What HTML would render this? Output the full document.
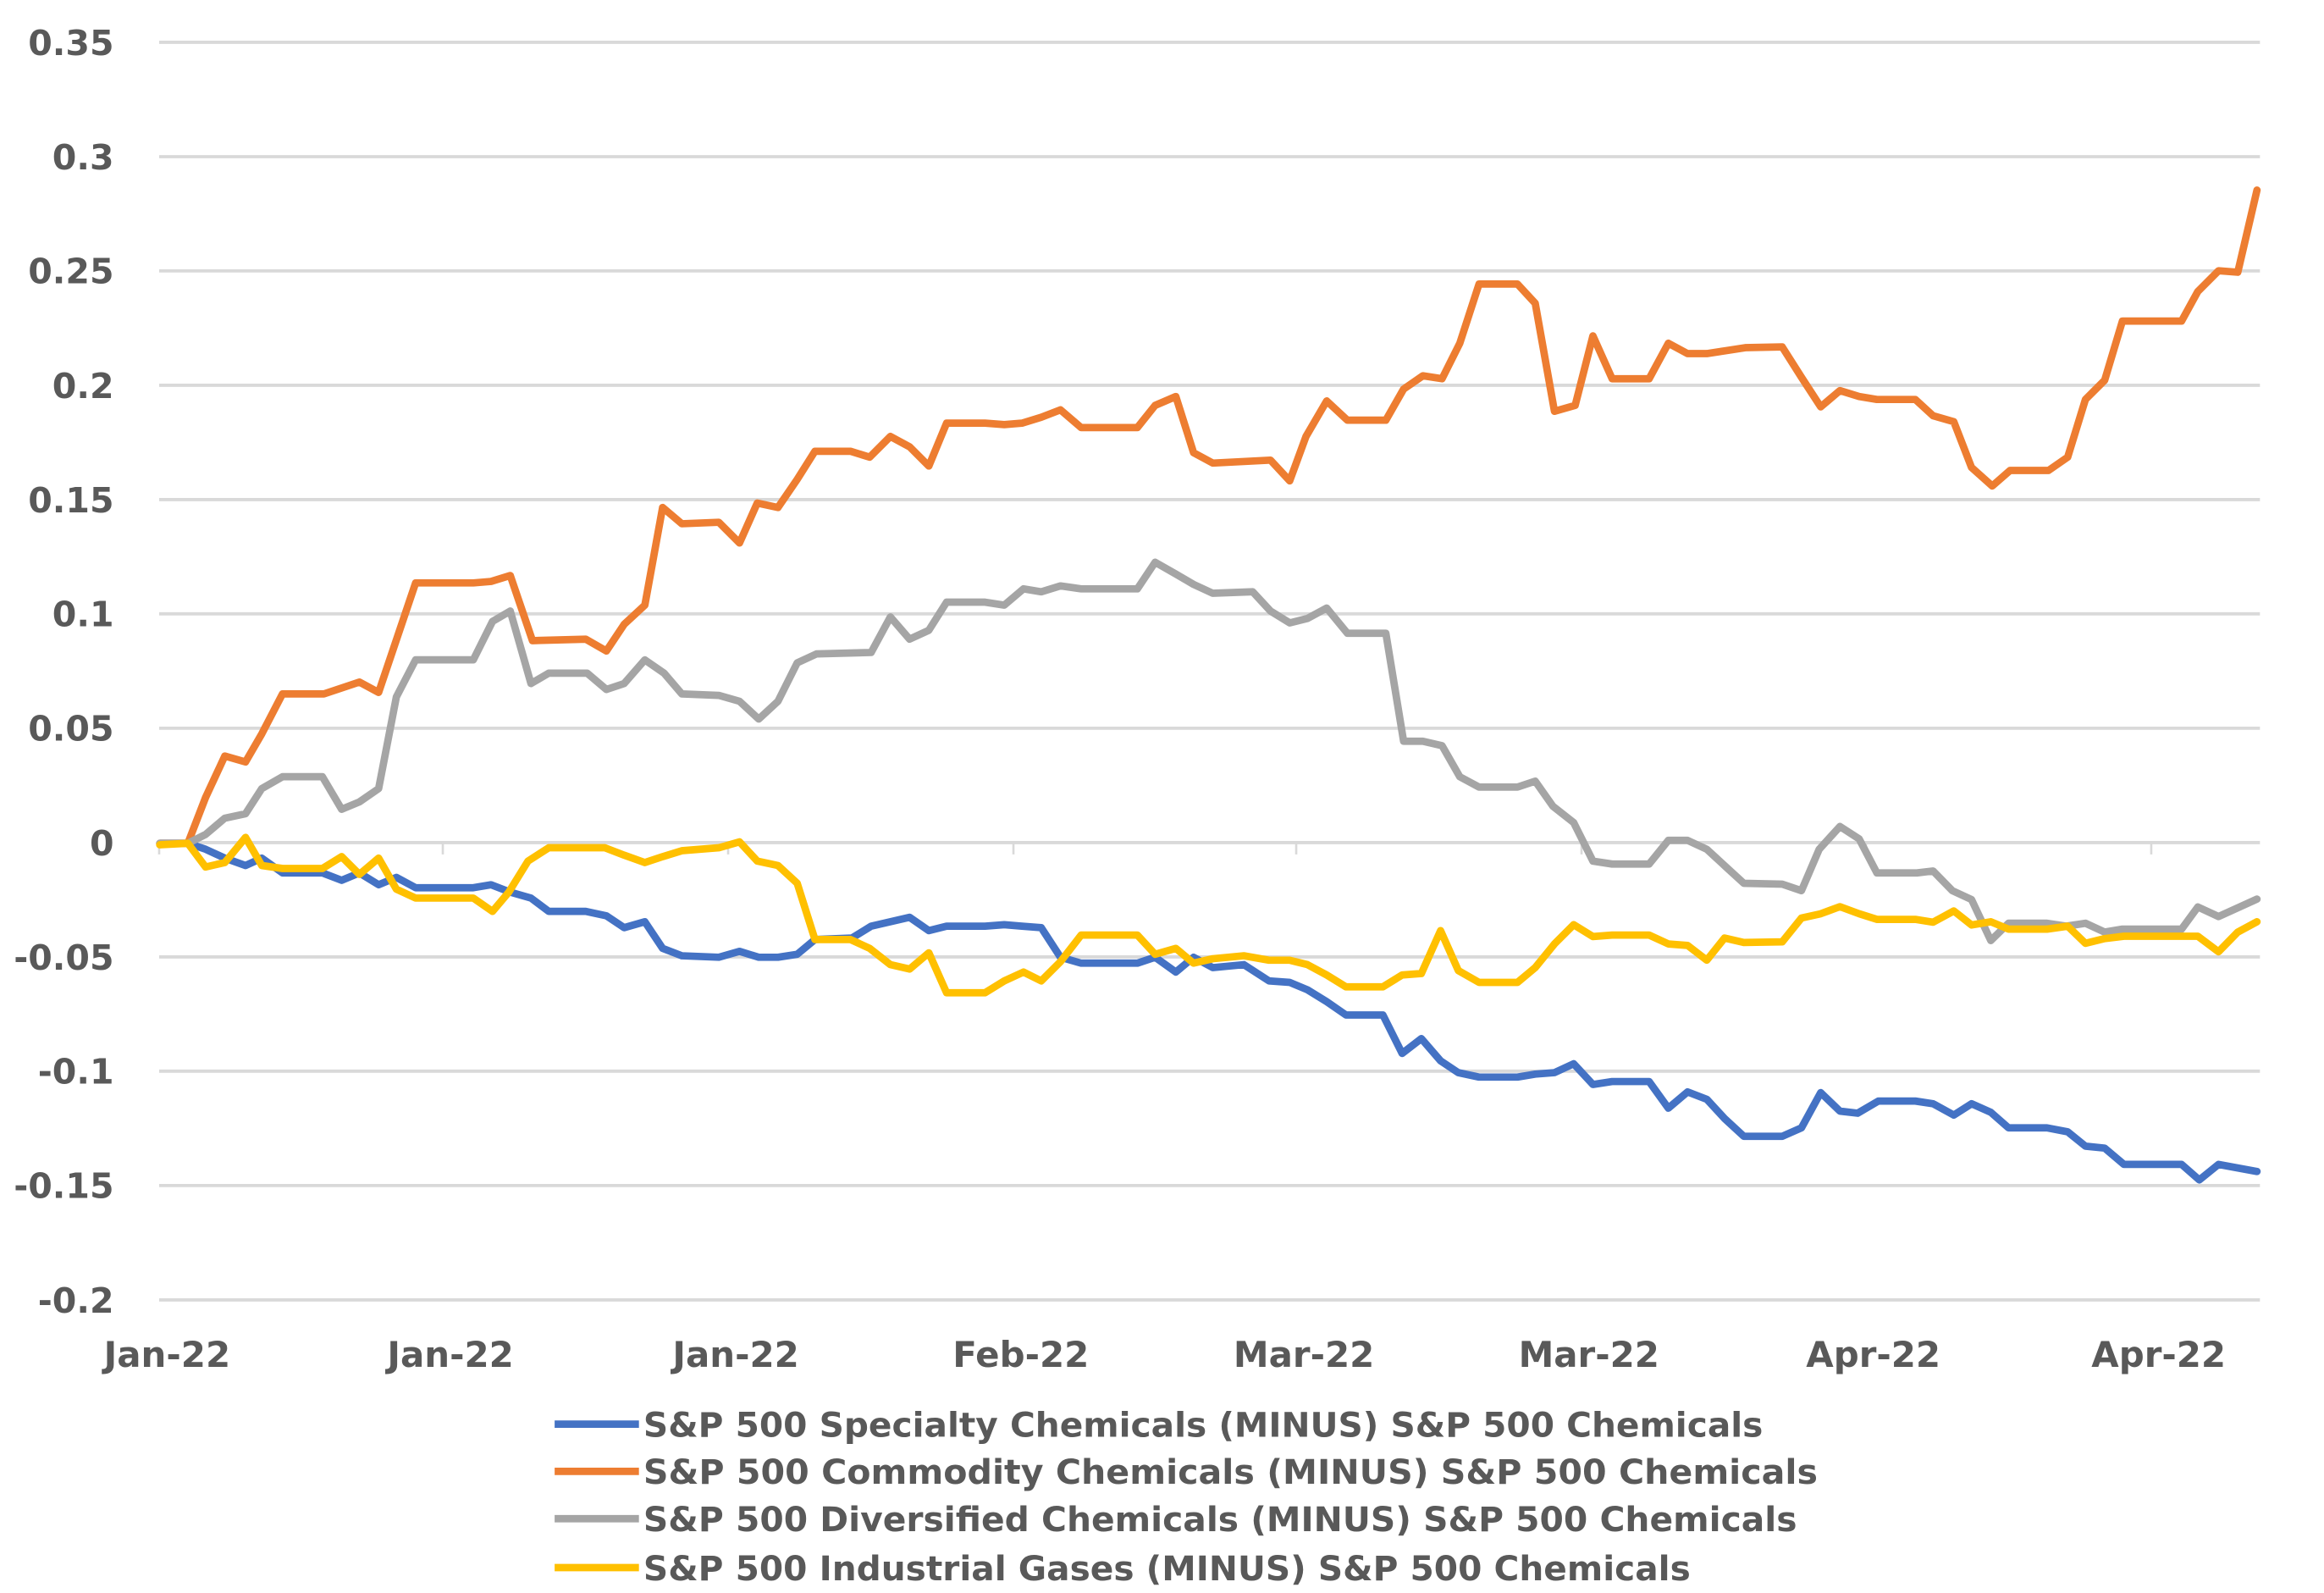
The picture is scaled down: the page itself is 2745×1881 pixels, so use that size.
<!DOCTYPE html>
<html>
<head>
<meta charset="utf-8">
<style>
  html, body { margin: 0; padding: 0; background: #ffffff; }
  svg { display: block; }
  .ax { font-family: "DejaVu Sans", "Liberation Sans", sans-serif; font-weight: bold; fill: #595959; }
</style>
</head>
<body>
<svg xmlns="http://www.w3.org/2000/svg" width="2745" height="1881" viewBox="0 0 1571.3 1076.7" preserveAspectRatio="none">
  <rect x="0" y="0" width="1571.3" height="1076.7" fill="#ffffff"/>

  <!-- gridlines -->
  <g stroke="#d9d9d9" stroke-width="2.2">
    <line x1="107.6" y1="28.6" x2="1528" y2="28.6"/>
    <line x1="107.6" y1="105.9" x2="1528" y2="105.9"/>
    <line x1="107.6" y1="183.1" x2="1528" y2="183.1"/>
    <line x1="107.6" y1="260.4" x2="1528" y2="260.4"/>
    <line x1="107.6" y1="337.7" x2="1528" y2="337.7"/>
    <line x1="107.6" y1="414.9" x2="1528" y2="414.9"/>
    <line x1="107.6" y1="492.2" x2="1528" y2="492.2"/>
    <line x1="107.6" y1="569.5" x2="1528" y2="569.5"/>
    <line x1="107.6" y1="646.8" x2="1528" y2="646.8"/>
    <line x1="107.6" y1="724.0" x2="1528" y2="724.0"/>
    <line x1="107.6" y1="801.3" x2="1528" y2="801.3"/>
    <line x1="107.6" y1="878.6" x2="1528" y2="878.6"/>
  </g>
  <!-- axis ticks -->
  <g stroke="#d9d9d9" stroke-width="1.5">
    <line x1="107.6" y1="569.5" x2="107.6" y2="577.5"/>
    <line x1="299.4" y1="569.5" x2="299.4" y2="577.5"/>
    <line x1="492.3" y1="569.5" x2="492.3" y2="577.5"/>
    <line x1="685.2" y1="569.5" x2="685.2" y2="577.5"/>
    <line x1="876.4" y1="569.5" x2="876.4" y2="577.5"/>
    <line x1="1069.3" y1="569.5" x2="1069.3" y2="577.5"/>
    <line x1="1261.6" y1="569.5" x2="1261.6" y2="577.5"/>
    <line x1="1454.5" y1="569.5" x2="1454.5" y2="577.5"/>
  </g>

  <!-- y-axis labels -->
  <g class="ax" font-size="23.5" text-anchor="end">
    <text x="77" y="37.1">0.35</text>
    <text x="77" y="114.4">0.3</text>
    <text x="77" y="191.6">0.25</text>
    <text x="77" y="268.9">0.2</text>
    <text x="77" y="346.2">0.15</text>
    <text x="77" y="423.4">0.1</text>
    <text x="77" y="500.7">0.05</text>
    <text x="77" y="578.0">0</text>
    <text x="77" y="655.3">-0.05</text>
    <text x="77" y="732.5">-0.1</text>
    <text x="77" y="809.8">-0.15</text>
    <text x="77" y="887.1">-0.2</text>
  </g>

  <!-- x-axis labels -->
  <g class="ax" font-size="24" text-anchor="middle">
    <text x="113" y="924">Jan-22</text>
    <text x="304.6" y="924">Jan-22</text>
    <text x="497.5" y="924">Jan-22</text>
    <text x="690.2" y="924">Feb-22</text>
    <text x="881.6" y="924">Mar-22</text>
    <text x="1074.3" y="924">Mar-22</text>
    <text x="1266.6" y="924">Apr-22</text>
    <text x="1459.5" y="924">Apr-22</text>
  </g>

  <!-- series -->
  <g fill="none" stroke-width="5" stroke-linejoin="round" stroke-linecap="round">
    <!-- Specialty (blue) -->
    <polyline stroke="#4472C4" points="108,570 127,570 139,574 152,580 166,585 177,580 191,590 218,590 231,595 243,590 256,598 268,593 281,600 320,600 332,598 345,603 359,607 371,616 396,616 410,619 422,627 436,623 448,641 461,646 486,647 500,643 513,647 526,647 539,645 551,635 576,634 589,626 602,623 615,620 628,629 640,626 666,626 679,625 691,626 704,627 717,647 731,651 769,651 781,647 795,657 807,647 820,654 841,652 858,663 872,664 884,669 897,677 910,686 935,686 948,712 961,702 974,717 986,725 1000,728 1026,728 1038,726 1051,725 1064,719 1077,733 1090,731 1115,731 1128,749 1141,738 1154,743 1166,756 1179,768 1205,768 1218,762.3 1231,738.5 1244,751 1256,752.4 1270,744.2 1295,744.2 1307,746 1321,753.7 1333,746 1346,751.8 1358,762.3 1384,762.3 1398,765 1410,774.7 1423,776 1436,787 1475,787 1487,797.5 1500,787 1526,791.8"/>
    <!-- Commodity (orange) -->
    <polyline stroke="#ED7D31" points="108,570 127,570 139,539 152,511 166,515 177,496 191,469 219,469 243,461 256,468 281,394 320,394 332,393 345,389 360,433 396,432 410,440 422,422 436,409 448,343 461,354 486,353 500,367 512,340 526,343 539,324 551,305 575,305 588,309 602,295 615,302 628,315 640,286 666,286 679,287 691,286 704,282 717,277 731,289 769,289 781,274 795,268 807,306 820,313 859,311 872,325 883,295 897,271 911,284 937,284 949,263 962,254 975,256 987,232 1000,192 1026,192 1038,205 1051,278 1065,274 1077,227 1090,256 1115,256 1128,232 1141,239 1154,239 1167,237 1180,235 1205,234.5 1218,255 1231,275 1244,264 1257,268 1269,270 1295,270 1307,281 1321,285 1333,316 1347,328.5 1359,318 1385,318 1398,309 1410,270 1423,257 1435,217 1475,217 1486,197 1500,183 1513,184 1526,128.5"/>
    <!-- Diversified (gray) -->
    <polyline stroke="#A5A5A5" points="108,570 127,570 139,564 152,553 166,550 177,533 191,525 218,525 231,547 243,542 256,533 268,471 281,446 320,446 333,420 345,413 359,462 371,455 397,455 410,466 422,462 436,446 449,455 461,469 486,470 500,474 513,486 526,474 539,448 552,442 589,441 602,417 615,432 628,426 640,407 666,407 679,409 692,398 704,400 717,396 731,398 769,398 781,380 795,388 807,395 820,401 847,400 859,413 872,421 884,418 897,411 911,428 937,428 949,501 962,501 975,504 987,525 1000,532 1026,532 1038,528 1050,545 1064,556 1077,582 1090,584 1115,584 1128,568 1141,568 1154,574 1167,586 1179,597 1205,597.6 1218,602 1230,574 1244,558.6 1257,567 1269,590 1296,590 1307,588.7 1320,602 1333,608 1346,635.7 1358,624 1384,624 1397,626 1410,624 1423,630 1435,628 1475,628 1486,613 1500,619.5 1526,607.7"/>
    <!-- Industrial Gases (yellow) -->
    <polyline stroke="#FFC000" points="108,571 127,570 139,586 152,583 166,566 177,585 191,587 218,587 231,579 243,591 256,580 268,601 281,607 320,607 333,616 344,603 357,582 371,573 409,573 422,578 436,583 448,579 461,575 486,573 500,569 512,582 526,585 539,597 551,635 575,635 588,641 602,652 615,655 628,644 640,671 666,671 679,663 692,657 704,663 717,650 731,632 769,632 781,645 795,641 807,651 820,648 841,646 858,649 872,649 884,652 897,659 910,667 935,667 948,659 961,658 974,629 986,656 1000,664 1026,664 1038,654 1051,638 1064,625 1077,633 1090,632 1115,632 1128,638 1141,639 1154,649 1166,634 1179,637 1205,636.6 1218,620.5 1231,617.6 1244,612.8 1257,617.6 1269,621.4 1295,621.4 1307,623.3 1321,615.7 1333,625.2 1346,623 1358,628 1384,628 1398,626 1410,637.6 1423,634.4 1436,632.8 1486,632.8 1500,643.3 1513,630 1526,623"/>
  </g>

  <!-- legend -->
  <g stroke-width="5" stroke-linecap="butt">
    <line x1="375" y1="962.6" x2="432" y2="962.6" stroke="#4472C4"/>
    <line x1="375" y1="994.5" x2="432" y2="994.5" stroke="#ED7D31"/>
    <line x1="375" y1="1026.5" x2="432" y2="1026.5" stroke="#A5A5A5"/>
    <line x1="375" y1="1059.5" x2="432" y2="1059.5" stroke="#FFC000"/>
  </g>
  <g class="ax" font-size="23">
    <text x="435" y="971" textLength="757" lengthAdjust="spacingAndGlyphs">S&amp;P 500 Specialty Chemicals (MINUS) S&amp;P 500 Chemicals</text>
    <text x="435" y="1003" textLength="794" lengthAdjust="spacingAndGlyphs">S&amp;P 500 Commodity Chemicals (MINUS) S&amp;P 500 Chemicals</text>
    <text x="435" y="1035" textLength="780" lengthAdjust="spacingAndGlyphs">S&amp;P 500 Diversified Chemicals (MINUS) S&amp;P 500 Chemicals</text>
    <text x="435" y="1068" textLength="708" lengthAdjust="spacingAndGlyphs">S&amp;P 500 Industrial Gases (MINUS) S&amp;P 500 Chemicals</text>
  </g>
</svg>
</body>
</html>
